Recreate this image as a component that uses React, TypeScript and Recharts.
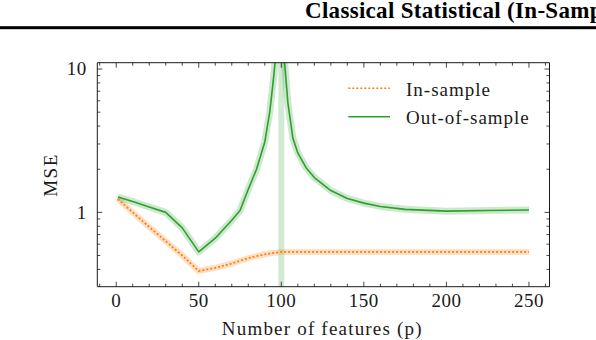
import React from 'react';
import { LineChart, Line, XAxis, YAxis, ReferenceLine, Legend } from 'recharts';

const TITLE = 'Classical Statistical (In-Sample vs. Out-of-Sample)';
const X_LABEL = 'Number of features (p)';
const Y_LABEL = 'MSE';

const IN_P = [1, 10, 20, 30, 40, 50, 60, 70, 80, 90, 100, 125, 150, 175, 200, 225, 250];
const IN_MSE = [1.24, 1.0, 0.79, 0.63, 0.5, 0.39, 0.41, 0.44, 0.48, 0.51, 0.53, 0.53, 0.53, 0.53, 0.53, 0.53, 0.53];

const OUT_P = [1, 10, 20, 30, 40, 50, 60, 70, 75, 80, 85, 90, 93, 95, 96, 98, 100, 102, 104, 107, 110, 115, 120, 130, 140, 150, 160, 175, 200, 225, 250];
const OUT_MSE = [1.28, 1.19, 1.09, 1.0, 0.78, 0.53, 0.66, 0.88, 1.03, 1.45, 2.0, 3.1, 5.0, 8.0, 10.5, 20, 35, 11, 5.8, 3.3, 2.6, 2.05, 1.75, 1.42, 1.25, 1.16, 1.1, 1.05, 1.02, 1.03, 1.04];

const X_TICKS = [-10, 0, 10, 20, 30, 40, 50, 60, 70, 80, 90, 100, 110, 120, 130, 140, 150, 160, 170, 180, 190, 200, 210, 220, 230, 240, 250, 260];
const X_LABELS = [0, 50, 100, 150, 200, 250];
const Y_TICKS = [0.4, 0.5, 0.6, 0.7, 0.8, 0.9, 1, 2, 3, 4, 5, 6, 7, 8, 9, 10];
const Y_LABELS = [1, 10];
const THRESHOLD_P = 100;

const LEGEND = [
  { name: 'In-sample', color: '#ff7f0e', dash: '2 2' },
  { name: 'Out-of-sample', color: '#2ca02c', dash: undefined },
];

const inRows = IN_P.map((p, i) => ({ p, mse: IN_MSE[i] }));
const outRows = OUT_P.map((p, i) => ({ p, mse: OUT_MSE[i] }));

const FONT = '"Liberation Serif", "Times New Roman", serif';
const INK = '#1a1a1a';
const X_DOMAIN = [-11.45, 262.45];
const Y_DOMAIN = [0.303, 11.07];

const tickLen = (major: boolean) => (major ? 5 : 3);

const BottomTick = (props: any) => {
  const { x, y, payload } = props;
  const major = X_LABELS.includes(payload.value);
  return (
    <g>
      <line x1={x} x2={x} y1={y} y2={y - tickLen(major)} stroke={INK} strokeWidth={0.8} />
      {major && (
        <text x={x} y={y + 20.6} textAnchor="middle" fontFamily={FONT} fontSize={19} letterSpacing={0.5} fill={INK}>
          {payload.value}
        </text>
      )}
    </g>
  );
};

const TopTick = (props: any) => {
  const { x, y, payload } = props;
  const major = X_LABELS.includes(payload.value);
  return <line x1={x} x2={x} y1={y} y2={y + tickLen(major)} stroke={INK} strokeWidth={0.8} />;
};

const LeftTick = (props: any) => {
  const { x, y, payload } = props;
  const major = Y_LABELS.includes(payload.value);
  return (
    <g>
      <line x1={x} x2={x + tickLen(major)} y1={y} y2={y} stroke={INK} strokeWidth={0.8} />
      {major && (
        <text x={x - 10.6} y={y + 6.4} textAnchor="end" fontFamily={FONT} fontSize={19} letterSpacing={0.5} fill={INK}>
          {payload.value}
        </text>
      )}
    </g>
  );
};

const RightTick = (props: any) => {
  const { x, y, payload } = props;
  const major = Y_LABELS.includes(payload.value);
  return <line x1={x} x2={x - tickLen(major)} y1={y} y2={y} stroke={INK} strokeWidth={0.8} />;
};

const LegendBox = () => (
  <svg width={210} height={62} style={{ display: 'block' }}>
    {LEGEND.map((item, i) => (
      <g key={item.name}>
        <line
          x1={8.3}
          x2={50}
          y1={18.3 + i * 28.4}
          y2={18.3 + i * 28.4}
          stroke={item.color}
          strokeWidth={1.6}
          strokeDasharray={item.dash}
        />
        <text x={66} y={26 + i * 28} fontFamily={FONT} fontSize={19} letterSpacing={1} fill={INK}>
          {item.name}
        </text>
      </g>
    ))}
  </svg>
);

export default function App() {
  return (
    <div style={{ position: 'absolute', left: 0, top: 0, width: 596, height: 340, overflow: 'hidden', background: '#fff' }}>
      <LineChart width={596} height={340} margin={{ top: 61.7, left: 96.3, right: 45.5, bottom: 52.3 }}>
        <XAxis
          dataKey="p"
          type="number"
          domain={X_DOMAIN}
          allowDataOverflow
          ticks={X_TICKS}
          interval={0}
          height={1}
          tickSize={0}
          tickMargin={0}
          tickLine={false}
          axisLine={{ stroke: INK, strokeWidth: 1 }}
          tick={(p: any) => <BottomTick {...p} />}
        />
        <XAxis
          xAxisId="top"
          orientation="top"
          dataKey="p"
          type="number"
          domain={X_DOMAIN}
          allowDataOverflow
          ticks={X_TICKS}
          interval={0}
          height={1}
          tickSize={0}
          tickMargin={0}
          tickLine={false}
          axisLine={{ stroke: INK, strokeWidth: 1 }}
          tick={(p: any) => <TopTick {...p} />}
        />
        <YAxis
          type="number"
          scale="log"
          domain={Y_DOMAIN}
          allowDataOverflow
          ticks={Y_TICKS}
          interval={0}
          width={1}
          tickSize={0}
          tickMargin={0}
          tickLine={false}
          axisLine={{ stroke: INK, strokeWidth: 1 }}
          tick={(p: any) => <LeftTick {...p} />}
        />
        <YAxis
          yAxisId="right"
          orientation="right"
          type="number"
          scale="log"
          domain={Y_DOMAIN}
          allowDataOverflow
          ticks={Y_TICKS}
          interval={0}
          width={1}
          tickSize={0}
          tickMargin={0}
          tickLine={false}
          axisLine={{ stroke: INK, strokeWidth: 1 }}
          tick={(p: any) => <RightTick {...p} />}
        />
        <ReferenceLine x={THRESHOLD_P} stroke="#2ca02c" strokeOpacity={0.22} strokeWidth={6} />
        {/* shaded spread around each curve */}
        <Line data={inRows} dataKey="mse" type="linear" stroke="#ff7f0e" strokeOpacity={0.25} strokeWidth={6} strokeLinejoin="round" dot={false} activeDot={false} legendType="none" isAnimationActive={false} />
        <Line data={outRows} dataKey="mse" type="linear" stroke="#2ca02c" strokeOpacity={0.24} strokeWidth={7} strokeLinejoin="round" dot={false} activeDot={false} legendType="none" isAnimationActive={false} />
        <Line data={inRows} dataKey="mse" name="In-sample" type="linear" stroke="#ff7f0e" strokeWidth={1.8} strokeDasharray="2 2" dot={false} activeDot={false} isAnimationActive={false} />
        <Line data={outRows} dataKey="mse" name="Out-of-sample" type="linear" stroke="#2ca02c" strokeWidth={1.6} strokeLinejoin="round" dot={false} activeDot={false} isAnimationActive={false} />
        <Legend
          layout="horizontal"
          verticalAlign="middle"
          align="center"
          wrapperStyle={{ position: 'absolute', left: 340, top: 70, width: 210, height: 62 }}
          content={() => <LegendBox />}
        />
      </LineChart>
      <svg width={596} height={340} style={{ position: 'absolute', left: 0, top: 0, pointerEvents: 'none' }}>
        <text x={305} y={18.3} fontFamily={FONT} fontSize={23} fontWeight="bold" letterSpacing={0.3} fill="#000">
          {TITLE}
        </text>
        <rect x={0} y={26.2} width={596} height={3} fill="#000" />
        <text x={322.3} y={335} textAnchor="middle" fontFamily={FONT} fontSize={19} letterSpacing={1.2} fill={INK}>
          {X_LABEL}
        </text>
        <text transform="translate(56.7,175) rotate(-90)" textAnchor="middle" fontFamily={FONT} fontSize={19} letterSpacing={1.5} fill={INK}>
          {Y_LABEL}
        </text>
      </svg>
    </div>
  );
}
